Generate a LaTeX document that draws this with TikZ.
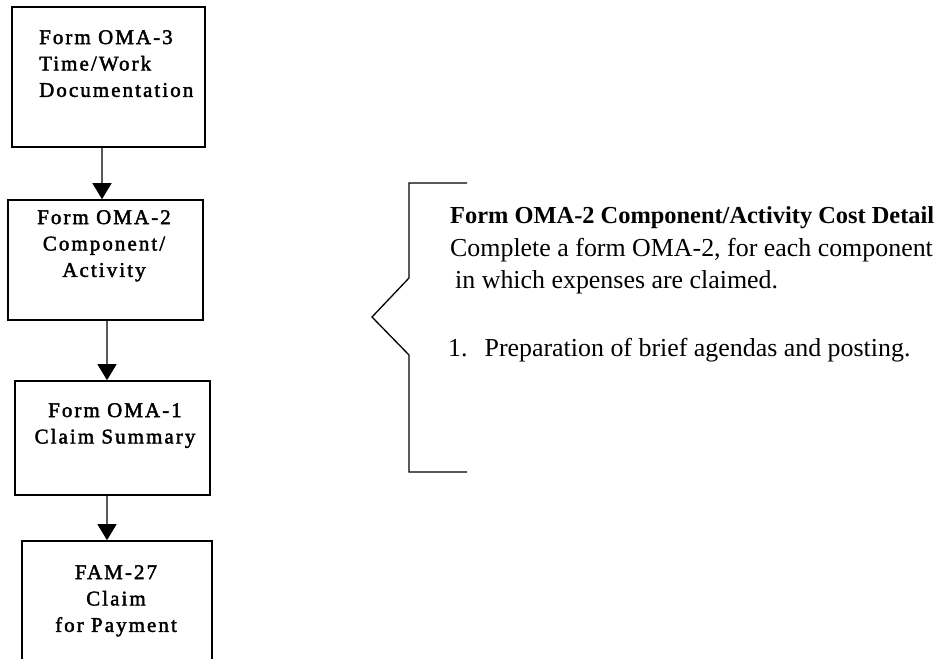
\documentclass[tikz,border=0pt]{standalone}
\usepackage{fontspec}
\setmainfont{Liberation Serif}
\newfontfamily\spacedfont{Liberation Serif}[LetterSpace=10,FakeBold=2]
\usetikzlibrary{arrows.meta}

\begin{document}
\begin{tikzpicture}[x=1bp,y=-1bp,
form/.style={draw,line width=1.6bp,inner sep=0pt},
formtext/.style={inner sep=0pt,font=\spacedfont\fontsize{21}{26.5}\selectfont},
flow/.style={-{Triangle[length=16bp,width=19bp]},line width=1.3bp},
note/.style={inner sep=0pt,anchor=north west,align=left,font=\fontsize{26}{33}\selectfont}]
\useasboundingbox (0,0) rectangle (942,659);
\clip (0,0) rectangle (942,659);
% left column of forms
\node[form,minimum width=193bp,minimum height=140bp] (oma3) at (108.5,77) {};
\node[form,minimum width=195bp,minimum height=120bp] (oma2) at (105.5,260) {};
\node[form,minimum width=195bp,minimum height=114bp] (oma1) at (112.5,438) {};
\node[form,minimum width=190bp,minimum height=139bp] (fam) at (117,610.5) {};
\node[formtext,anchor=north west,align=left] (t3) at (39,30) {Form OMA-3\\Time/Work\\Documentation};
\node[formtext,anchor=north,align=center] (t2) at (104,210) {Form OMA-2\\Component/\\Activity};
\node[formtext,anchor=north,align=center] (t1) at (115,403) {Form OMA-1\\Claim Summary};
\node[formtext,anchor=north,align=center] (tf) at (116,565) {FAM-27\\Claim\\for Payment};
\draw[flow] ([xshift=-6.5bp]oma3.south) -- ([xshift=-3.5bp]oma2.north);
\draw[flow] ([xshift=1.5bp]oma2.south) -- ([xshift=-5.5bp]oma1.north);
\draw[flow] ([xshift=-5.5bp]oma1.south) -- ([xshift=-10bp]fam.north);
% brace and its note
\draw[line width=1.3bp] (467,183) -- (409,183) -- (409,278) -- (372,317) -- (409,355) -- (409,472) -- (467,472);
\node[note] (detail) at (450,206) {{\bfseries\fontsize{24.5}{33}\selectfont Form OMA-2 Component/Activity Cost Detail}\\Complete a form OMA-2, for each component\\\hspace*{5bp}in which expenses are claimed.};
\node[note] (item) at (448,338) {1.\hspace{17bp}Preparation of brief agendas and posting.};
\end{tikzpicture}
\end{document}
